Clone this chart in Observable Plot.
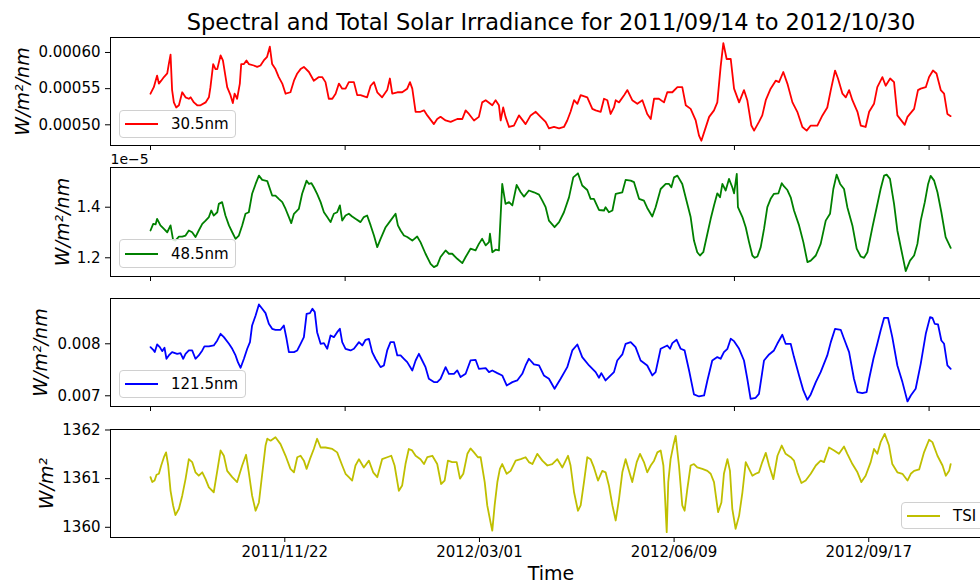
<!DOCTYPE html>
<html>
<head>
<meta charset="utf-8">
<script src="https://cdn.jsdelivr.net/npm/d3@7"></script>
<script src="https://cdn.jsdelivr.net/npm/@observablehq/plot@0.6"></script>
<style>
  html, body { margin: 0; padding: 0; background: white; overflow: hidden; }
  #root { position: relative; width: 980px; height: 586px; overflow: hidden; font-family: "DejaVu Sans", sans-serif; }
  #root > svg, #root > .layer { position: absolute; left: 0; top: 0; }
  .legend { position: absolute; box-sizing: border-box; border: 1px solid #d0d0d0; border-radius: 4px;
            background: rgba(255,255,255,0.85); display: flex; align-items: center; font-size: 15px; color: black;
            padding: 0 6px 0 5px; white-space: nowrap; }
  .legend .sw { display: inline-block; width: 33px; height: 2px; margin-right: 13px; }
</style>
</head>
<body>
<div id="root"></div>
<script>
// ---------- data (day offset from 2011/09/14, value) ----------
const startDate = "2011/09/14";
const endDate = "2012/10/30";

// 30.5 nm, values in units of 1e-4 W/m^2/nm
const s305 = [[0,5.43],[1.7,5.52],[3.4,5.68],[4.3,5.57],[5.5,5.61],[6.9,5.66],[8.6,5.71],[9.4,5.84],[10.3,5.97],[11.1,5.48],[12.0,5.31],[13.2,5.24],[14.6,5.27],[16.3,5.45],[18.0,5.38],[19.7,5.36],[20.6,5.38],[22.3,5.31],[24.0,5.27],[25.7,5.27],[28.3,5.31],[30.0,5.38],[30.8,5.52],[32.2,5.84],[33.4,5.77],[34.3,5.77],[36.0,5.96],[37.2,5.89],[39.4,5.52],[41.1,5.41],[42.3,5.30],[43.2,5.43],[44.5,5.36],[45.9,5.57],[46.6,5.84],[48.0,5.84],[49.3,5.89],[50.5,5.84],[53.1,5.82],[54.8,5.80],[56.5,5.82],[58.2,5.89],[59.9,5.94],[61.3,6.08],[62.5,5.84],[64.2,5.77],[65.9,5.66],[67.7,5.57],[69.4,5.43],[71.9,5.45],[73.7,5.61],[75.4,5.71],[77.1,5.77],[78.8,5.80],[81.4,5.73],[83.9,5.61],[86.5,5.66],[88.2,5.66],[89.9,5.59],[91.6,5.36],[93.4,5.36],[95.1,5.43],[96.8,5.57],[98.5,5.50],[100.2,5.50],[101.9,5.59],[104.5,5.59],[106.2,5.41],[107.9,5.41],[111.3,5.38],[113.1,5.54],[114.8,5.59],[116.5,5.45],[119.0,5.38],[121.6,5.48],[123.0,5.64],[124.2,5.43],[126.8,5.45],[129.3,5.45],[131.9,5.50],[133.3,5.59],[134.5,5.50],[136.2,5.18],[138.7,5.18],[140.5,5.20],[142.2,5.13],[145.6,5.01],[147.3,5.08],[149.0,5.11],[151.6,5.06],[154.2,5.04],[157.6,5.08],[160.2,5.08],[161.9,5.20],[163.6,5.15],[166.2,5.06],[168.7,5.11],[170.4,5.31],[172.2,5.34],[175.6,5.27],[177.3,5.34],[179.0,5.27],[179.9,5.06],[181.2,5.24],[182.4,5.11],[184.2,4.97],[186.7,4.99],[189.3,5.13],[192.7,5.01],[195.3,5.13],[197.9,5.18],[200.4,5.11],[203.0,5.04],[204.7,4.95],[207.3,4.97],[209.9,4.95],[212.4,4.97],[214.1,5.06],[215.8,5.18],[217.6,5.34],[219.3,5.29],[221.0,5.41],[224.4,5.38],[227.0,5.22],[228.7,5.20],[231.3,5.18],[233.0,5.36],[234.7,5.34],[236.4,5.15],[238.1,5.24],[239.0,5.34],[240.7,5.31],[243.3,5.41],[245.0,5.48],[247.5,5.34],[250.1,5.29],[252.7,5.34],[255.2,5.15],[257.0,5.08],[258.7,5.36],[261.2,5.36],[263.8,5.31],[265.5,5.45],[268.1,5.45],[270.7,5.52],[273.2,5.52],[275.0,5.27],[277.5,5.22],[280.1,5.06],[281.8,4.85],[283.0,4.78],[284.7,4.92],[287.0,5.11],[289.5,5.20],[291.2,5.31],[292.9,5.80],[294.3,6.13],[296.0,5.91],[298.1,5.91],[299.8,5.50],[302.4,5.31],[304.9,5.48],[306.6,5.34],[308.7,4.99],[310.1,4.92],[312.6,5.04],[314.3,5.13],[316.1,5.34],[318.6,5.50],[321.2,5.61],[322.9,5.59],[325.1,5.73],[327.2,5.57],[329.8,5.31],[332.3,5.18],[334.9,4.97],[337.1,4.92],[339.2,4.99],[342.6,4.99],[345.2,5.13],[347.7,5.24],[349.5,5.48],[351.7,5.75],[353.2,5.64],[355.5,5.43],[357.2,5.38],[358.9,5.48],[360.6,5.34],[363.2,5.18],[364.9,4.99],[367.4,4.97],[369.2,5.18],[371.7,5.29],[373.4,5.52],[376.0,5.66],[377.7,5.54],[380.0,5.64],[382.0,5.59],[383.7,5.13],[386.3,5.04],[387.5,5.00],[388.9,5.11],[392.3,5.22],[394.3,5.48],[395.7,5.50],[398.3,5.52],[400.0,5.66],[402.0,5.75],[403.8,5.71],[406.0,5.48],[407.7,5.43],[409.4,5.15],[411.1,5.12]];

// 48.5 nm, values in units of 1e-5 W/m^2/nm
const s485 = [[0,1.308],[1.4,1.334],[2.6,1.332],[3.4,1.354],[5.1,1.328],[6.9,1.314],[8.6,1.301],[10.3,1.328],[11.6,1.271],[12.8,1.268],[14.6,1.284],[16.3,1.284],[18.0,1.288],[19.7,1.308],[21.4,1.301],[23.1,1.282],[24.8,1.308],[26.6,1.334],[28.3,1.347],[30.0,1.361],[31.2,1.387],[32.5,1.367],[34.3,1.380],[35.1,1.413],[36.8,1.420],[38.5,1.367],[40.3,1.328],[42.0,1.301],[43.7,1.275],[45.4,1.288],[47.1,1.328],[48.8,1.374],[50.5,1.380],[52.2,1.453],[54.0,1.492],[55.7,1.525],[57.4,1.508],[60.0,1.503],[62.5,1.446],[64.2,1.446],[65.9,1.433],[67.7,1.420],[69.4,1.393],[71.1,1.361],[72.3,1.337],[73.7,1.374],[76.2,1.393],[77.9,1.453],[80.2,1.505],[81.4,1.492],[82.7,1.495],[83.9,1.479],[85.6,1.453],[87.4,1.420],[89.1,1.380],[90.8,1.361],[92.5,1.341],[94.2,1.374],[95.9,1.380],[97.3,1.407],[98.5,1.347],[100.2,1.367],[101.9,1.374],[103.6,1.363],[105.3,1.354],[107.9,1.341],[109.6,1.361],[111.3,1.367],[113.1,1.328],[114.8,1.288],[116.5,1.242],[118.2,1.275],[120.8,1.321],[123.3,1.347],[125.9,1.374],[127.1,1.328],[128.5,1.308],[130.2,1.288],[131.9,1.282],[134.5,1.268],[137.0,1.284],[138.7,1.262],[141.3,1.216],[143.9,1.176],[145.6,1.163],[147.3,1.170],[149.0,1.203],[151.6,1.229],[153.3,1.216],[155.0,1.216],[157.6,1.196],[160.2,1.179],[161.9,1.203],[164.4,1.236],[167.0,1.229],[168.7,1.255],[170.4,1.275],[172.2,1.249],[173.9,1.262],[174.4,1.295],[175.6,1.222],[177.3,1.232],[179.0,1.229],[180.7,1.492],[182.4,1.413],[184.2,1.420],[185.9,1.407],[188.1,1.488],[190.2,1.459],[191.9,1.442],[194.4,1.466],[197.0,1.459],[199.6,1.450],[201.3,1.426],[203.0,1.400],[204.7,1.347],[207.6,1.321],[209.9,1.341],[212.4,1.380],[215.0,1.439],[217.2,1.518],[219.6,1.534],[221.8,1.486],[224.4,1.468],[226.1,1.433],[227.8,1.433],[230.4,1.389],[233.0,1.387],[233.8,1.400],[235.5,1.380],[237.3,1.387],[239.0,1.453],[242.4,1.459],[244.1,1.508],[246.7,1.505],[248.4,1.499],[251.0,1.433],[253.5,1.426],[255.2,1.397],[257.8,1.363],[259.5,1.400],[262.1,1.472],[264.7,1.492],[266.4,1.492],[267.6,1.479],[269.0,1.518],[270.7,1.525],[273.2,1.492],[275.8,1.413],[277.5,1.361],[279.2,1.268],[280.9,1.222],[282.3,1.209],[284.0,1.222],[286.1,1.295],[287.8,1.354],[289.5,1.407],[291.2,1.455],[292.6,1.439],[293.8,1.492],[295.5,1.466],[297.2,1.512],[298.9,1.479],[299.8,1.455],[301.2,1.532],[301.8,1.400],[304.1,1.361],[305.8,1.321],[307.5,1.262],[309.2,1.209],[310.4,1.200],[311.8,1.205],[313.5,1.242],[315.2,1.314],[316.9,1.400],[318.6,1.433],[320.3,1.453],[322.6,1.455],[324.3,1.495],[325.5,1.482],[327.2,1.468],[328.9,1.439],[330.6,1.387],[333.2,1.328],[335.4,1.262],[337.5,1.183],[339.2,1.189],[341.8,1.209],[344.3,1.255],[346.9,1.347],[349.1,1.374],[350.8,1.472],[352.5,1.529],[354.3,1.492],[356.3,1.472],[358.0,1.400],[360.6,1.328],[362.8,1.236],[364.9,1.205],[366.6,1.200],[368.3,1.222],[370.9,1.321],[373.1,1.400],[375.1,1.472],[376.9,1.525],[378.2,1.529],[379.9,1.512],[382.0,1.413],[383.7,1.308],[385.8,1.229],[388.0,1.147],[390.2,1.189],[392.3,1.209],[394.0,1.255],[395.7,1.347],[397.8,1.420],[399.5,1.492],[400.8,1.524],[402.6,1.505],[404.3,1.459],[406.3,1.380],[408.5,1.282],[411.1,1.239]];

// 121.5 nm, values in units of 1e-3 W/m^2/nm
const s1215 = [[0,7.936],[1.4,7.885],[2.2,7.840],[3.4,7.987],[4.8,7.936],[6.0,7.859],[7.2,7.923],[8.2,7.712],[9.4,7.776],[11.1,7.840],[13.7,7.808],[15.4,7.821],[16.8,7.712],[18.0,7.808],[19.7,7.872],[21.4,7.872],[23.1,7.712],[24.8,7.776],[26.6,7.872],[27.7,7.949],[30.0,7.949],[32.5,7.968],[34.3,8.064],[36.0,8.192],[37.7,8.128],[40.3,8.000],[42.0,7.904],[43.7,7.776],[44.9,7.647],[46.3,7.538],[48.0,7.712],[49.7,7.904],[51.1,8.032],[52.2,8.353],[54.0,8.545],[55.7,8.756],[57.4,8.673],[59.1,8.590],[60.8,8.385],[62.5,8.288],[64.2,8.269],[66.8,8.269],[68.5,8.353],[69.9,8.096],[71.1,7.840],[73.7,7.840],[75.4,7.872],[77.1,8.000],[78.8,8.128],[80.2,8.577],[81.9,8.590],[83.2,8.673],[84.4,8.609],[85.6,8.224],[87.4,8.000],[89.1,8.013],[90.8,7.904],[92.5,8.160],[94.2,8.128],[95.9,8.224],[97.3,8.288],[98.5,8.032],[100.2,7.904],[102.8,7.872],[104.5,7.904],[107.1,8.032],[108.8,7.968],[110.5,8.077],[112.2,8.096],[113.9,7.840],[115.6,7.712],[118.2,7.551],[119.9,7.583],[121.6,7.872],[123.3,8.032],[125.1,8.032],[126.8,7.776],[128.5,7.776],[130.2,7.712],[131.9,7.647],[134.5,7.487],[136.2,7.679],[137.9,7.808],[139.6,7.679],[141.3,7.551],[143.0,7.327],[145.6,7.263],[147.3,7.263],[149.0,7.327],[151.6,7.551],[153.3,7.423],[155.9,7.423],[157.6,7.487],[159.3,7.359],[161.9,7.423],[164.4,7.679],[167.0,7.692],[168.7,7.519],[172.2,7.532],[173.9,7.455],[175.6,7.487],[178.2,7.436],[180.7,7.391],[183.0,7.199],[185.9,7.263],[188.4,7.295],[191.0,7.423],[192.7,7.583],[194.4,7.712],[197.0,7.603],[199.6,7.583],[202.1,7.391],[204.7,7.327],[207.6,7.135],[210.7,7.327],[214.1,7.551],[216.7,7.872],[219.3,7.987],[221.8,7.744],[225.3,7.583],[228.7,7.455],[230.4,7.346],[231.6,7.436],[233.8,7.295],[236.4,7.391],[238.1,7.455],[239.8,7.679],[242.4,7.795],[244.1,8.000],[246.7,8.032],[249.2,7.936],[251.8,7.679],[255.2,7.583],[257.8,7.391],[259.5,7.455],[262.1,7.904],[265.5,7.968],[266.9,7.904],[268.1,8.013],[270.3,8.077],[272.4,7.904],[274.4,7.872],[276.7,7.487],[279.2,7.026],[281.8,6.987],[284.4,7.006],[286.1,7.295],[288.6,7.679],[291.2,7.744],[292.9,7.712],[294.6,7.840],[296.4,7.904],[298.1,8.096],[299.8,8.051],[302.4,7.904],[304.9,7.679],[306.6,7.327],[308.3,6.942],[310.9,6.962],[312.6,7.038],[315.2,7.679],[317.8,7.795],[320.3,7.872],[322.0,8.000],[324.6,8.173],[326.3,8.000],[328.9,8.000],[330.6,7.744],[333.2,7.391],[335.4,7.103],[337.5,6.923],[339.2,7.026],[341.8,7.263],[344.3,7.455],[347.7,7.776],[349.5,8.032],[351.7,8.288],[354.6,8.269],[356.3,8.096],[358.9,7.840],[361.4,7.327],[363.2,7.071],[365.7,7.051],[367.9,7.071],[369.2,7.327],[371.4,7.712],[373.4,8.000],[375.1,8.256],[376.9,8.500],[378.9,8.500],[381.1,8.128],[383.7,7.583],[386.3,7.263],[388.9,6.891],[390.6,7.006],[393.1,7.135],[395.7,7.615],[398.3,8.192],[400.5,8.513],[401.7,8.500],[402.9,8.385],[404.6,8.372],[406.3,8.064],[407.7,8.000],[409.4,7.583],[411.1,7.519]];

// Total Solar Irradiance, W/m^2
const sTSI = [[0,1361.03],[0.9,1360.93],[2.1,1360.96],[3.1,1361.08],[4.3,1361.10],[5.5,1361.27],[6.9,1361.44],[8.0,1361.54],[9.1,1361.27],[10.3,1360.75],[11.6,1360.45],[12.8,1360.25],[14.6,1360.38],[16.3,1360.65],[18.0,1360.99],[19.7,1361.40],[21.4,1361.34],[23.1,1361.13],[24.8,1361.06],[26.6,1361.13],[28.3,1360.99],[30.0,1360.82],[32.5,1360.72],[34.3,1361.16],[36.0,1361.58],[37.7,1361.47],[39.4,1361.16],[42.0,1361.03],[44.5,1360.93],[47.1,1361.27],[49.1,1361.49],[50.5,1361.13],[52.2,1360.65],[54.0,1360.34],[55.7,1360.51],[57.4,1361.10],[59.1,1361.68],[60.0,1361.82],[61.7,1361.78],[64.2,1361.85],[66.8,1361.71],[69.4,1361.47],[71.9,1361.20],[73.7,1361.13],[75.4,1361.44],[77.1,1361.47],[78.8,1361.37],[80.2,1361.20],[81.9,1361.40],[83.9,1361.61],[85.6,1361.82],[87.4,1361.64],[89.9,1361.64],[93.4,1361.61],[95.9,1361.54],[98.5,1361.27],[100.2,1361.10],[101.9,1361.03],[103.6,1360.96],[105.3,1361.27],[107.1,1361.40],[109.6,1361.23],[112.2,1361.37],[114.4,1361.13],[116.5,1361.03],[119.0,1361.40],[121.6,1361.44],[123.7,1361.47],[125.4,1361.27],[127.6,1360.75],[129.3,1360.86],[131.0,1361.30],[132.7,1361.61],[134.4,1361.58],[136.2,1361.47],[138.7,1361.40],[140.5,1361.30],[142.2,1361.44],[144.8,1361.47],[147.3,1361.30],[149.3,1360.89],[151.1,1360.96],[152.8,1361.37],[155.0,1361.34],[157.3,1361.34],[159.0,1361.00],[160.7,1361.10],[162.8,1361.51],[164.4,1361.62],[166.2,1361.54],[168.2,1361.44],[169.6,1361.44],[171.7,1360.93],[173.0,1360.45],[174.7,1360.10],[175.6,1359.93],[176.8,1360.45],[178.2,1360.93],[179.5,1361.20],[180.7,1361.30],[183.0,1361.10],[185.0,1361.16],[187.6,1361.37],[190.2,1361.40],[192.7,1361.44],[194.4,1361.34],[196.2,1361.30],[198.7,1361.51],[201.3,1361.37],[203.9,1361.27],[206.4,1361.30],[209.0,1361.40],[211.6,1361.23],[214.5,1361.47],[215.8,1361.27],[217.6,1360.72],[219.6,1360.34],[221.0,1360.45],[222.7,1360.93],[224.4,1361.44],[226.1,1361.40],[227.8,1361.23],[229.9,1360.96],[232.1,1361.16],[233.8,1361.13],[235.5,1360.86],[237.3,1360.45],[239.0,1360.14],[240.7,1360.58],[242.4,1361.13],[244.1,1361.40],[245.8,1361.16],[247.5,1360.93],[249.8,1361.34],[251.5,1361.51],[253.5,1361.34],[255.2,1361.13],[257.0,1361.27],[258.7,1361.37],[260.4,1361.54],[262.1,1361.58],[263.5,1361.27],[264.3,1360.65],[265.2,1359.90],[266.0,1360.93],[267.2,1361.40],[268.6,1361.68],[269.8,1361.88],[271.5,1361.27],[273.2,1360.45],[274.4,1360.34],[275.8,1360.79],[277.5,1361.27],[279.2,1361.30],[280.9,1361.23],[283.5,1361.20],[286.1,1361.16],[287.8,1361.10],[289.5,1360.93],[291.6,1360.31],[293.3,1360.51],[294.6,1361.10],[296.4,1361.40],[297.7,1361.16],[298.9,1360.38],[300.6,1359.97],[302.4,1360.24],[304.1,1360.72],[305.8,1361.34],[307.5,1361.20],[309.2,1361.06],[310.9,1361.10],[312.6,1361.13],[314.3,1361.34],[316.1,1361.53],[317.8,1361.27],[320.0,1360.99],[322.1,1361.47],[324.3,1361.68],[326.3,1361.51],[328.9,1361.44],[330.6,1361.37],[332.3,1361.13],[334.4,1360.91],[336.6,1360.96],[339.2,1361.10],[341.8,1361.27],[344.3,1361.37],[346.0,1361.34],[348.6,1361.64],[351.2,1361.58],[353.7,1361.51],[356.3,1361.66],[358.0,1361.51],[360.6,1361.30],[363.2,1361.13],[365.2,1360.93],[367.4,1361.06],[370.0,1361.34],[371.7,1361.61],[373.4,1361.51],[375.1,1361.75],[377.2,1361.92],[379.4,1361.68],[381.1,1361.30],[383.7,1361.13],[386.3,1361.10],[388.9,1360.96],[390.6,1361.10],[392.3,1361.16],[394.9,1361.19],[397.4,1361.54],[400.0,1361.80],[401.7,1361.75],[404.3,1361.47],[406.9,1361.27],[408.6,1361.06],[410.3,1361.16],[411.1,1361.30]];

// tick labels
const topTickLabels = ["2011/09/14", "2011/12/23", "2012/04/01", "2012/07/10", "2012/10/18"];
const bottomTickLabels = ["2011/11/22", "2012/03/01", "2012/06/09", "2012/09/17"];
const yTicks305 = [0.00050, 0.00055, 0.00060];
const yTicks485 = [1.2, 1.4];
const yTicks1215 = [0.007, 0.008];
const yTicksTSI = [1360, 1361, 1362];

// ---------- helpers ----------
const parse = d3.utcParse("%Y/%m/%d");
const fmt = d3.utcFormat("%Y/%m/%d");
const t0 = parse(startDate);
const DAY = 864e5;
const toDate = d => new Date(+t0 + d * DAY);
const W = 980, H = 586;
const xDomain = [toDate(-20.55), toDate(431.55)];
const root = document.getElementById("root");

function panel({series, scale, color, top, bottom, yDomain, yTicks, yFmt, ylabel, ylabelX, xTicks, xFmt, extra = []}) {
  const chart = Plot.plot({
    width: W, height: H,
    marginLeft: 110, marginRight: -10, marginTop: top, marginBottom: H - bottom,
    x: {type: "utc", domain: xDomain},
    y: {domain: yDomain},
    style: {fontFamily: "DejaVu Sans", fontSize: "15px", background: "transparent", overflow: "visible", color: "black"},
    marks: [
      Plot.line(series, {x: d => toDate(d[0]), y: d => d[1] * scale, stroke: color, strokeWidth: 1.8}),
      Plot.frame({stroke: "black", strokeWidth: 1}),
      Plot.axisX({ticks: xTicks, tickFormat: xFmt, tickSize: 5, tickPadding: 4, label: null}),
      Plot.axisY({ticks: yTicks, tickFormat: yFmt, tickSize: 5, tickPadding: 5, label: null}),
      Plot.text([ylabel], {text: d => d, frameAnchor: "left", dx: ylabelX - 110, rotate: -90,
                           textAnchor: "middle", lineAnchor: "middle",
                           fontSize: 19, fontStyle: "italic", fill: "black"}),
      ...extra
    ]
  });
  root.appendChild(chart);
}

const topTicks = topTickLabels.map(parse);
const bottomTicks = bottomTickLabels.map(parse);
const noLabel = () => "";

panel({series: s305, scale: 1e-4, color: "#ff0000", top: 37, bottom: 145,
  yDomain: [0.0004714, 0.0006207], yTicks: yTicks305, yFmt: d => d.toFixed(5),
  ylabel: "W/m²/nm", ylabelX: 22, xTicks: topTicks, xFmt: noLabel});

panel({series: s485, scale: 1, color: "#008000", top: 167, bottom: 276,
  yDomain: [1.126, 1.557], yTicks: yTicks485, yFmt: d => d.toFixed(1),
  ylabel: "W/m²/nm", ylabelX: 62, xTicks: topTicks, xFmt: noLabel,
  extra: [Plot.text(["1e\u22125"], {text: d => d, frameAnchor: "top-left", dy: -4, textAnchor: "start",
                                    lineAnchor: "bottom", fontSize: 14, fill: "black"})]});

panel({series: s1215, scale: 1e-3, color: "#0000ff", top: 298, bottom: 406,
  yDomain: [0.006794, 0.008871], yTicks: yTicks1215, yFmt: d => d.toFixed(3),
  ylabel: "W/m²/nm", ylabelX: 40, xTicks: topTicks, xFmt: noLabel});

panel({series: sTSI, scale: 1, color: "#bfbf00", top: 429, bottom: 537,
  yDomain: [1359.79, 1362.01], yTicks: yTicksTSI, yFmt: d => String(d),
  ylabel: "W/m²", ylabelX: 46, xTicks: bottomTicks, xFmt: fmt});

// title and x label
const over = d3.create("svg").attr("width", W).attr("height", H)
  .style("font-family", "DejaVu Sans").style("pointer-events", "none");
over.append("text").attr("x", 551).attr("y", 30).attr("text-anchor", "middle")
  .attr("font-size", 22.5).attr("fill", "black")
  .text(`Spectral and Total Solar Irradiance for ${startDate} to ${endDate}`);
over.append("text").attr("x", 551).attr("y", 580).attr("text-anchor", "middle")
  .attr("font-size", 19).attr("fill", "black").text("Time");
root.appendChild(over.node());

// legends
const legends = [
  {label: "30.5nm", color: "#ff0000", left: 119, top: 110, width: 117, height: 28},
  {label: "48.5nm", color: "#008000", left: 119, top: 239, width: 117, height: 29},
  {label: "121.5nm", color: "#0000ff", left: 119, top: 370, width: 127, height: 28},
  {label: "TSI", color: "#bfbf00", left: 901, top: 502, width: 90, height: 27}
];
for (const l of legends) {
  const div = document.createElement("div");
  div.className = "legend";
  Object.assign(div.style, {left: l.left + "px", top: l.top + "px", width: l.width + "px", height: l.height + "px"});
  const sw = document.createElement("span");
  sw.className = "sw";
  sw.style.background = l.color;
  div.appendChild(sw);
  div.appendChild(document.createTextNode(l.label));
  root.appendChild(div);
}
</script>
</body>
</html>
